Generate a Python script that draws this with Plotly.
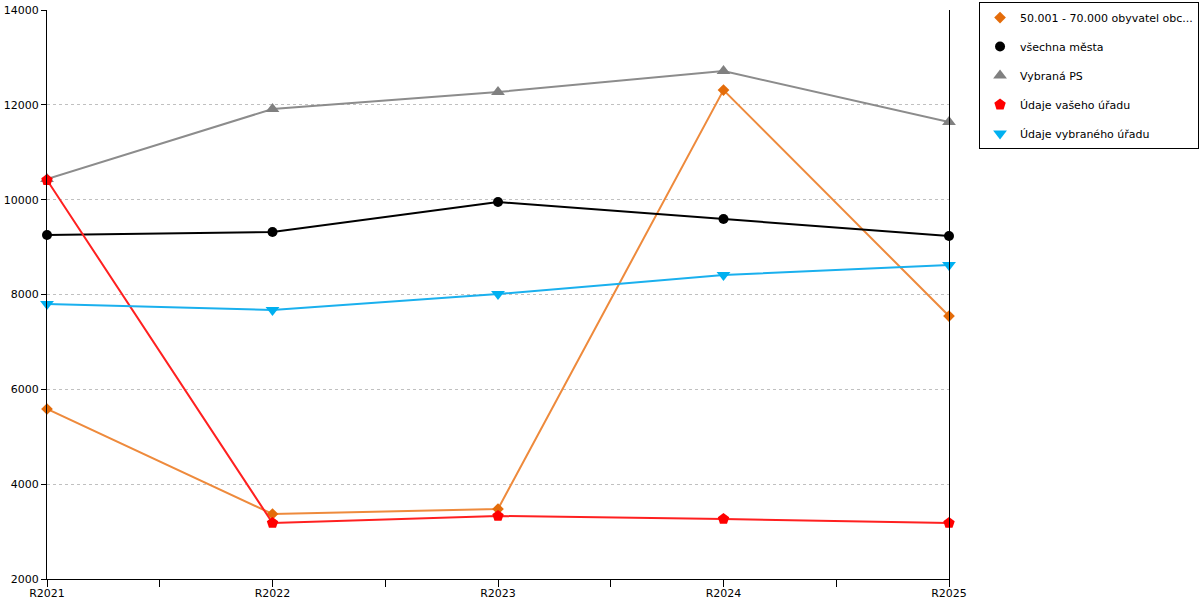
import plotly.graph_objects as go

categories = ["R2021", "R2022", "R2023", "R2024", "R2025"]
names = ["50.001 - 70.000 obyvatel obc...", "všechna města", "Vybraná PS",
         "Údaje vašeho úřadu", "Údaje vybraného úřadu"]
orange_vals = [5585, 3371, 3476, 12312, 7546]
black_vals = [9254, 9318, 9950, 9592, 9233]
gray_vals = [10435, 11912, 12270, 12713, 11637]
red_vals = [10414, 3181, 3329, 3265, 3181]
blue_vals = [7799, 7673, 8010, 8411, 8622]
y_ticks = [2000, 4000, 6000, 8000, 10000, 12000, 14000]

xs = list(range(len(categories)))
FONT = "DejaVu Sans"

series = [
    (names[0], orange_vals, "#EE8A3C", "#E46C0A", "diamond", 9),
    (names[1], black_vals, "#000000", "#000000", "circle", 10),
    (names[2], gray_vals, "#8C8C8C", "#808080", "triangle-up", 12),
    (names[3], red_vals, "#FF2020", "#FF0000", "pentagon", 12),
    (names[4], blue_vals, "#1AB0EE", "#00B0F0", "triangle-down", 12),
]

fig = go.Figure()
for i, (nm, vals, lc, mc, sym, sz) in enumerate(series):
    fig.add_trace(go.Scatter(
        x=xs, y=vals, name=nm, mode="lines",
        line=dict(color=lc, width=2),
        cliponaxis=False, legendgroup=f"g{i}", showlegend=False, hoverinfo="skip",
    ))
    fig.add_trace(go.Scatter(
        x=xs, y=vals, name=nm, mode="markers",
        marker=dict(color=mc, symbol=sym, size=sz, line=dict(width=0)),
        cliponaxis=False, legendgroup=f"g{i}",
    ))

fig.update_layout(
    width=1200, height=600,
    margin=dict(l=47, r=251, t=10, b=21, pad=0, autoexpand=False),
    plot_bgcolor="white", paper_bgcolor="white",
    font=dict(family=FONT, size=11, color="#000000"),
    showlegend=True,
    legend=dict(
        x=1.0333, y=1.014, xanchor="left", yanchor="top",
        bordercolor="#000000", borderwidth=1, bgcolor="white",
        font=dict(family=FONT, size=11, color="#000000"),
        tracegroupgap=10, itemwidth=30,
    ),
    xaxis=dict(
        range=[0, len(categories) - 1], tickvals=xs, ticktext=categories,
        showgrid=False, zeroline=False, automargin=False,
        showline=True, linecolor="#000000", linewidth=1,
        ticks="outside", ticklen=7, tickcolor="#000000", ticklabelstandoff=-3,
        minor=dict(dtick=0.5, tick0=0, ticks="outside", ticklen=7, tickcolor="#000000", showgrid=False),
        tickfont=dict(family=FONT, size=11),
    ),
    yaxis=dict(
        range=[2000, 14000], tickvals=y_ticks, ticktext=[str(v) for v in y_ticks],
        showgrid=True, gridcolor="#C0C0C0", griddash="3px,3px", gridwidth=1,
        zeroline=False, showline=True, linecolor="#000000", linewidth=1, mirror=True,
        ticks="outside", ticklen=5, tickcolor="#000000", automargin=False,
        tickfont=dict(family=FONT, size=11),
    ),
)

fig.write_html("out.html", config={"displayModeBar": False},
               post_script="document.body.style.margin='0';")
